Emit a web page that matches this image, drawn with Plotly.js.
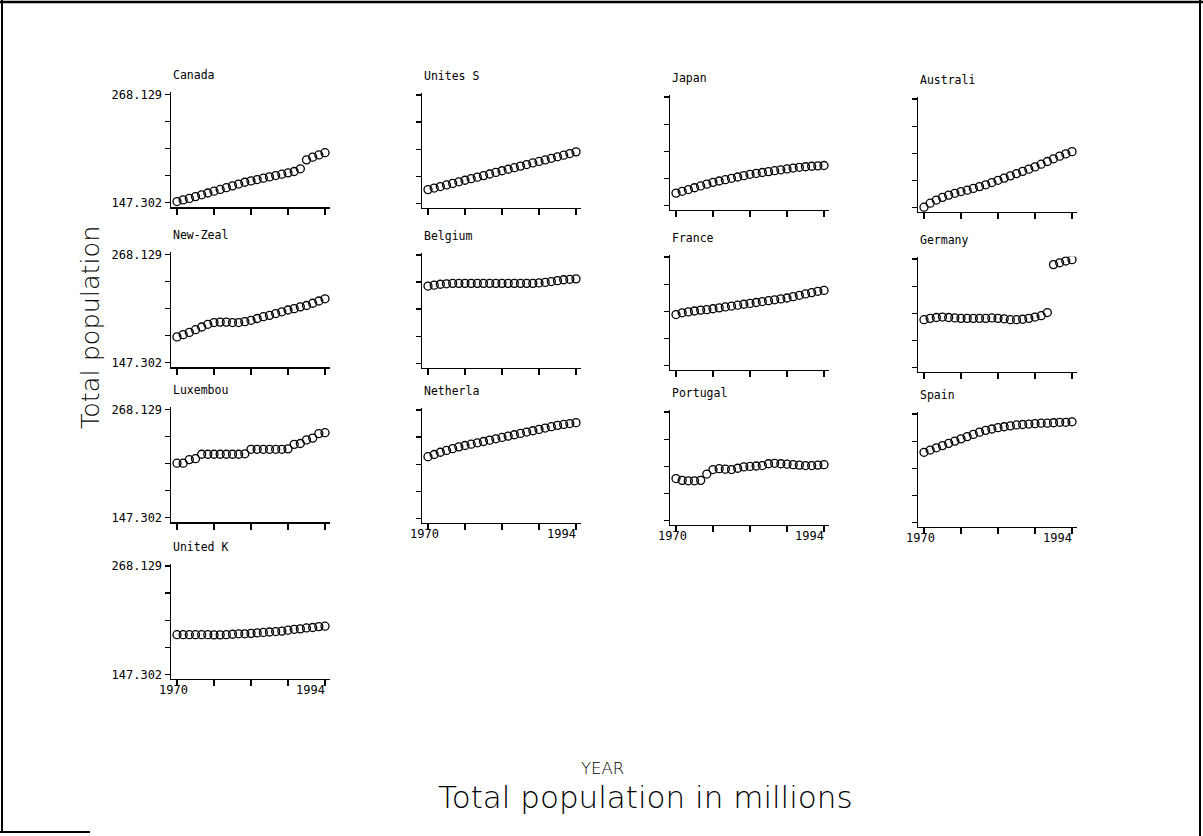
<!DOCTYPE html>
<html>
<head>
<meta charset="utf-8">
<script src="https://cdn.plot.ly/plotly-3.0.1.min.js"></script>
<style>html,body{margin:0;padding:0;background:#fff;}#chart{width:1203px;height:836px;}</style>
</head>
<body>
<div id="chart"></div>
<script>
// ---- data ----
const years = [1970,1971,1972,1973,1974,1975,1976,1977,1978,1979,1980,1981,1982,1983,1984,1985,1986,1987,1988,1989,1990,1991,1992,1993,1994];
const panelNames = ["Canada","Unites S","Japan","Australi","New-Zeal","Belgium","France","Germany","Luxembou","Netherla","Portugal","Spain","United K"];
const canada   = [148.5,150.3,152,154,156,158,160,162,164,166,168,170,171.5,173,174.5,176,177.5,179,180.5,182,185,195,198,200.5,203];
const unitedS  = [162.6,164.3,166,167.8,169.5,171.3,173,174.8,176.5,178.2,180,181.8,183.6,185.3,187,188.8,190.5,192.3,194,195.7,197.5,199.2,201,202.8,204.7];
const japan    = [161,163,165,167,169,171,173,174.5,176,177.5,179,180.5,182,183,184,185,186,187,188,189,189.8,190.4,191,191.4,191.8];
const australi = [147.5,152,155.5,158.5,161,163,165,166.5,168.5,170.5,172.5,175,177.5,180,182.5,185,187.5,190,192.5,195.5,198.5,201.5,204.5,207,209.5];
const newZeal  = [176,178.5,181,184,187,190,192,192.5,192.5,192,192,193,194.5,196.5,198.5,200,202,204,206,207.5,209.5,211,213.5,216,218.5];
const belgium  = [233.5,234.5,235.5,236,236.5,236.5,236.5,236.5,236.5,236.5,236.5,236.5,236.5,236.5,236.5,236.5,236.5,236.5,237,237.5,238.5,239.5,240.5,241,241.5];
const france   = [204,206,207,208,209,209.5,210.5,211.5,212.5,213.5,214.5,215.5,216.5,217.5,218.5,219.5,220.5,221.5,222.5,224,225.5,227,228.5,230,231];
const germany  = [200.5,202,203,203.5,203,202.5,202,202,202,202,202,202.5,202,201.5,200.5,200.5,201,202,203.5,205,208.5,262,264,266,267.5];
const luxembou = [208,208,212,213,218,218,218,218,218,218,218,218.5,223.5,223.5,223.5,223.5,223.5,223.5,224,229,230,234,236,241,242];
const netherla = [216,218.5,221,223,225,227,228.5,230,231.5,233,234.5,236,237.5,239,240.5,242,243.5,245,246.5,248,249.5,251,252,253,254];
const portugal = [194,192,191.5,191.5,192,199,204,205,204.5,204,205.5,207,207.5,208,208.5,210.5,211,210.5,210,209.5,209,208.5,208.5,209,209.5];
const spain    = [225.5,228,230.5,233,235.5,238,240.5,243,245.5,248,250,251.5,253,254,255,256,256.5,257,257.5,258,258,258.5,259,259,259.5];
const unitedK  = [191.5,191.5,191.5,191.5,191.5,191.5,191.3,191.3,191.5,192,192.5,192.5,193,193.5,194,194.5,195,195.5,196.5,197.5,198,199,199.5,200.5,201];
const seriesList = [canada,unitedS,japan,australi,newZeal,belgium,france,germany,luxembou,netherla,portugal,spain,unitedK];
const yTickVals = [147.302,177.509,207.716,237.922,268.129];
const yTickText = ["147.302","","","","268.129"];
const xTickVals = [1970,1976,1982,1988,1994];
const xLabelYears = ["1970","1994"];
const yTitle = "Total population";
const xTitle = "YEAR";
const mainTitle = "Total population in millions";

// ---- layout geometry ----
const W = 1203, H = 836;
const colLeft = [171, 422, 670, 918];
const colOff = [0, 0.7, 2.8, 4.8];
const rowTop = [94.3, 254.3, 409.3, 566];
const panelW = 159, tickSpan = 108.3;
const k = (268.129 - 147.302) / tickSpan;
const yRange = [147.302 - 4.5 * k, 268.129 + 2.5 * k];
const xRange = [1970 - 6 / 6.167, 1994 + 5 / 6.167];
const lastRowOfCol = [12, 9, 10, 11];

const monoFont = {family: "DejaVu Sans Mono", size: 12, color: "#000"};
const traces = [];
const layout = {
  width: W, height: H, margin: {l: 0, r: 0, t: 0, b: 0},
  paper_bgcolor: "#fff", plot_bgcolor: "rgba(0,0,0,0)",
  showlegend: false, annotations: [], shapes: [],
  font: monoFont
};

seriesList.forEach((vals, i) => {
  const r = Math.floor(i / 4), c = i % 4;
  const n = i === 0 ? "" : String(i + 1);
  const T = rowTop[r] + colOff[c];
  const topPx = T - 2.5, botPx = T + tickSpan + 4.5;
  const L = colLeft[c];
  traces.push({
    x: years, y: vals, type: "scatter", mode: "markers",
    xaxis: "x" + n, yaxis: "y" + n,
    marker: {symbol: "circle-open", size: 8, color: "#000", line: {width: 1.3, color: "#000"}},
    hoverinfo: "x+y"
  });
  layout["xaxis" + n] = {
    domain: [L / W, (L + panelW) / W], range: xRange, anchor: "y" + n,
    showline: true, linecolor: "#000", linewidth: 1.5, showgrid: false, zeroline: false,
    ticks: "outside", ticklen: 6, tickwidth: 1.3, tickcolor: "#000",
    tickvals: xTickVals, showticklabels: false, fixedrange: true
  };
  layout["yaxis" + n] = {
    domain: [1 - botPx / H, 1 - topPx / H], range: yRange, anchor: "x" + n,
    showline: true, linecolor: "#000", linewidth: 1.5, showgrid: false, zeroline: false,
    ticks: "outside", ticklen: 5, tickwidth: 1.3, tickcolor: "#000",
    tickvals: yTickVals, ticktext: yTickText, showticklabels: c === 0,
    tickfont: monoFont, fixedrange: true
  };
  layout.annotations.push({
    text: panelNames[i], xref: "x" + n + " domain", yref: "y" + n + " domain",
    x: 0, y: 1, xanchor: "left", yanchor: "middle", yshift: 16.5, xshift: 0,
    showarrow: false, font: {family: "DejaVu Sans Mono", size: 11.5, color: "#000"}
  });
  if (lastRowOfCol.indexOf(i) >= 0) {
    layout.annotations.push({
      text: xLabelYears[0], xref: "x" + n, yref: "y" + n + " domain",
      x: 1969.5, y: 0, xanchor: "center", yanchor: "top", yshift: -2,
      showarrow: false, font: monoFont
    });
    layout.annotations.push({
      text: xLabelYears[1], xref: "x" + n, yref: "y" + n + " domain",
      x: 1994.4, y: 0, xanchor: "right", yanchor: "top", yshift: -2,
      showarrow: false, font: monoFont
    });
  }
});

// big titles
const thinFont = (s) => ({family: "DejaVu Sans", size: s, color: "#000", weight: 200});
layout.annotations.push({
  text: yTitle, xref: "paper", yref: "paper", x: 90 / W, y: 1 - 328 / H,
  xanchor: "center", yanchor: "middle", textangle: -90, showarrow: false, font: thinFont(25.5)
});
layout.annotations.push({
  text: xTitle, xref: "paper", yref: "paper", x: 602 / W, y: 1 - 768 / H,
  xanchor: "center", yanchor: "middle", showarrow: false, font: thinFont(16.5)
});
layout.annotations.push({
  text: mainTitle, xref: "paper", yref: "paper", x: 645 / W, y: 1 - 797 / H,
  xanchor: "center", yanchor: "middle", showarrow: false, font: thinFont(31)
});

// frame
const ln = (x0, y0, x1, y1, w) => ({type: "line", xref: "paper", yref: "paper",
  x0: x0 / W, y0: 1 - y0 / H, x1: x1 / W, y1: 1 - y1 / H, line: {color: "#000", width: w}});
layout.shapes.push(ln(0, 2, W, 2, 2.5));
layout.shapes.push(ln(2, 0, 2, 832, 2));
layout.shapes.push(ln(1200, 0, 1200, H, 2));
layout.shapes.push(ln(0, 832, 90, 832, 2));

Plotly.newPlot("chart", traces, layout, {displayModeBar: false, staticPlot: true});
</script>
</body>
</html>
